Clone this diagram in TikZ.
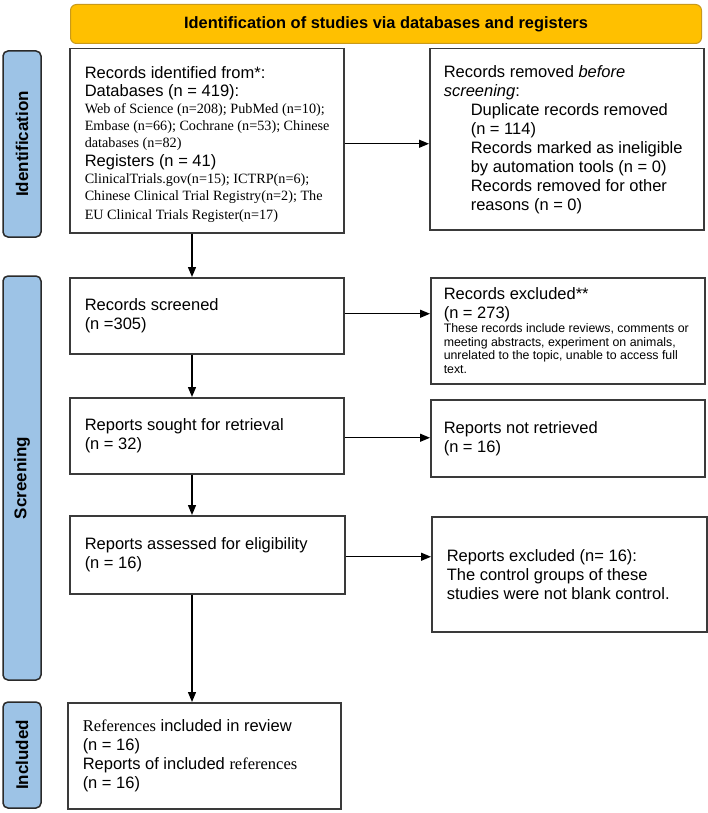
\documentclass[tikz,border=0pt]{standalone}
\usepackage{fontspec}
\setmainfont{Liberation Sans}
\newfontfamily\tnr{Liberation Serif}
\usetikzlibrary{arrows.meta}
\definecolor{hdrfill}{HTML}{FFC000}
\definecolor{hdrline}{HTML}{C99A1A}
\definecolor{sidefill}{HTML}{9DC3E6}
\definecolor{sideline}{HTML}{2A2A2A}
\definecolor{boxline}{HTML}{3A3A3A}
\newcommand{\bigtxt}{\fontsize{16.5}{19}\selectfont}
\newcommand{\sertxt}{\tnr\fontsize{14.2}{17}\selectfont}
\newcommand{\smalltxt}{\fontsize{12.35}{13.7}\selectfont}
\tikzset{
  x=1pt, y=-1pt,
  box/.style={draw=boxline, line width=1.5pt, rectangle, anchor=north west,
    inner ysep=0pt, align=flush left, font=\bigtxt},
  hdrbox/.style={draw=hdrline, fill=hdrfill, line width=1pt, rounded corners=6pt,
    anchor=north west, inner sep=0pt, font=\fontsize{16.4}{19}\selectfont\bfseries},
  sidebox/.style={draw=sideline, fill=sidefill, line width=1.5pt, rounded corners=5pt,
    rotate=90, inner sep=0pt, minimum height=38pt, font=\fontsize{17}{19}\selectfont\bfseries},
  arr/.style={line width=1.3pt, -{Triangle[length=10pt,width=8pt]}}
}
\begin{document}
\begin{tikzpicture}
\useasboundingbox (0,0) rectangle (708,813);
\fill[white] (0,0) rectangle (708,813);

\node[hdrbox, minimum width=631pt, minimum height=39pt] (hdr) at (70,4)
  {Identification of studies via databases and registers};

\node[sidebox, minimum width=186pt] (sid) at (22,144) {Identification};
\node[sidebox, minimum width=404pt] (sscr) at (22,478) {Screening};
\node[sidebox, minimum width=106pt] (sinc) at (22,755) {Included};

\node[box, inner xsep=15pt, text width=244pt, minimum height=184pt] (id) at (69,48)
  {{\fontsize{16.5}{18}\selectfont \rule{0pt}{20pt}\mbox{Records identified from*:}\\\mbox{Databases (n = 419):}\par}%
   {\sertxt \mbox{Web of Science (n=208); PubMed (n=10);}\\\mbox{Embase (n=66); Cochrane (n=53); Chinese}\\\mbox{databases (n=82)}\par}%
   {\fontsize{16.5}{19.5}\selectfont \mbox{Registers (n = 41)}\par}%
   {\sertxt \mbox{ClinicalTrials.gov(n=15); ICTRP(n=6);}\\\mbox{Chinese Clinical Trial Registry(n=2); The}\\[2pt]\mbox{EU Clinical Trials Register(n=17)}\par}};

\node[box, inner xsep=14pt, text width=246pt, minimum height=181pt] (rem) at (429,48)
  {Records removed \textit{before}\\\textit{screening}:\\
   \hspace*{27pt}Duplicate records removed\\
   \hspace*{27pt}(n = 114)\\
   \hspace*{27pt}Records marked as ineligible\\
   \hspace*{27pt}by automation tools (n = 0)\\
   \hspace*{27pt}Records removed for other\\
   \hspace*{27pt}reasons (n = 0)};

\node[box, inner xsep=15pt, text width=244pt, minimum height=76pt] (scr) at (69,277)
  {Records screened\\(n =305)};

\node[box, inner xsep=13pt, text width=248pt, minimum height=106pt] (exc) at (430,277)
  {{\bigtxt Records excluded**\\(n = 273)\par}%
   {\smalltxt \mbox{These records include reviews, comments or}\\\mbox{meeting abstracts, experiment on animals,}\\\mbox{unrelated to the topic, unable to access full}\\\mbox{text.}\par}};

\node[box, inner xsep=15pt, text width=244pt, minimum height=76pt] (sought) at (69,397)
  {Reports sought for retrieval\\(n = 32)};

\node[box, inner xsep=13pt, text width=248pt, minimum height=77pt] (notret) at (430,399)
  {Reports not retrieved\\(n = 16)};

\node[box, inner xsep=15pt, text width=245pt, minimum height=78pt] (ass) at (69,515)
  {Reports assessed for eligibility\\(n = 16)};

\node[box, inner xsep=15pt, text width=245pt, minimum height=115pt] (repexc) at (431,516)
  {Reports excluded (n= 16):\\The control groups of these\\studies were not blank control.};

\node[box, inner xsep=15pt, text width=243pt, minimum height=106pt] (inc) at (67,702)
  {{\tnr References} included in review\\(n = 16)\\Reports of included {\tnr references}\\(n = 16)};

\coordinate (xa) at (192,0);
\draw[arr] (id.south -| xa) -- (scr.north -| xa);
\draw[arr] (scr.south -| xa) -- (sought.north -| xa);
\draw[arr] (sought.south -| xa) -- (ass.north -| xa);
\draw[arr] (ass.south -| xa) -- (inc.north -| xa);

\draw[arr] ([yshift=-3pt]id.east) -- ([yshift=-3pt]id.east -| rem.west);
\draw[arr] ([yshift=2pt]scr.east) -- ([yshift=2pt]scr.east -| exc.west);
\draw[arr] ([yshift=-2pt]sought.east) -- ([yshift=-2pt]sought.east -| notret.west);
\draw[arr] ([yshift=-2pt]ass.east) -- ([yshift=-2pt]ass.east -| repexc.west);
\end{tikzpicture}
\end{document}
